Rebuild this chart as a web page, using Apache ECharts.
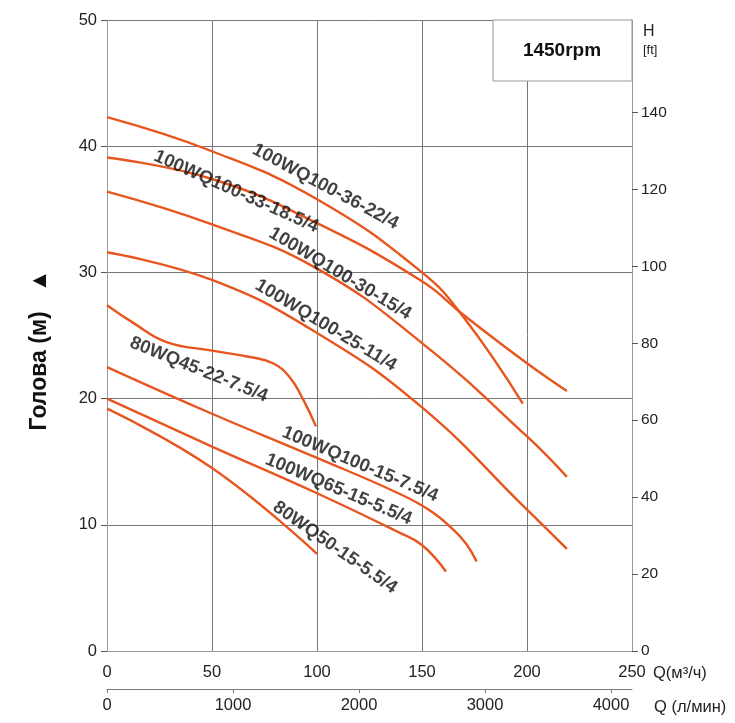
<!DOCTYPE html>
<html><head><meta charset="utf-8">
<script src="https://cdn.jsdelivr.net/npm/echarts@6/dist/echarts.min.js"></script>
<style>html,body{margin:0;padding:0;background:#fff}#c{width:735px;height:723px}</style>
</head><body><div id="c"></div>
<script>
// ---- data (Q in m3/h, H in m) ----
const q36 = [0, 50, 100, 150, 170, 198];
const h36 = [42.3, 39.6, 35.8, 30.0, 26.4, 19.6];
const q33 = [0, 50, 100, 150, 170, 200, 219];
const h33 = [39.1, 37.4, 33.9, 29.3, 26.6, 22.8, 20.6];
const q30 = [0, 50, 100, 150, 200, 219];
const h30 = [36.4, 33.8, 30.3, 24.4, 17.0, 13.8];
const q25 = [0, 50, 100, 150, 200, 219];
const h25 = [31.6, 29.4, 25.2, 19.3, 11.2, 8.1];
const q45 = [0, 12.5, 28, 50, 68, 79, 87, 93.5, 99.5];
const h45 = [27.4, 26.0, 24.5, 23.8, 23.3, 22.8, 21.7, 19.9, 17.8];
const q157 = [0, 50, 100, 140, 155, 165, 171, 176];
const h157 = [22.5, 18.8, 15.3, 12.4, 11.0, 9.6, 8.5, 7.1];
const q65 = [0, 50, 100, 139, 150, 161.4];
const h65 = [20.0, 16.2, 12.5, 9.4, 8.4, 6.3];
const q50 = [0, 50, 100];
const h50 = [19.2, 14.5, 7.7];

const curveNames = ['100WQ100-36-22/4','100WQ100-33-18.5/4','100WQ100-30-15/4','100WQ100-25-11/4',
  '80WQ45-22-7.5/4','100WQ100-15-7.5/4','100WQ65-15-5.5/4','80WQ50-15-5.5/4'];
const curveQ = [q36, q33, q30, q25, q45, q157, q65, q50];
const curveH = [h36, h33, h30, h25, h45, h157, h65, h50];

// label anchor (Q, H) and rotation
const labelQ = [104.0, 61.5, 111.0, 104.2, 43.7, 120.5, 110.3, 108.5];
const labelH = [36.8, 36.4, 29.9, 25.8, 22.3, 14.8, 12.8, 8.2];
const labelRot = [-28, -24, -31, -31, -22, -23, -23, -35];

const xTicksM3h = [0, 50, 100, 150, 200, 250];
const xTicksLmin = [0, 1000, 2000, 3000, 4000];
const yTicksFt = [0, 20, 40, 60, 80, 100, 120, 140];
const xMaxLmin = 250 * 1000 / 60;
const ftMax = 50 * 3.28084;

const FONT = "'Liberation Sans', Arial, sans-serif";
const LINE = '#e8561f';
const GRID = '#777777';
const AXIS = '#9a9a9a';

const series = curveNames.map((n, i) => ({
  type: 'line', name: n, xAxisIndex: 0, yAxisIndex: 0,
  data: curveQ[i].map((q, j) => [q, curveH[i][j]]),
  smooth: 0.45, symbol: 'none',
  lineStyle: { color: LINE, width: 2.4 }, z: 3
}));
series.push({
  type: 'scatter', xAxisIndex: 0, yAxisIndex: 0, symbolSize: 1,
  itemStyle: { color: 'rgba(0,0,0,0)' }, z: 5,
  data: curveNames.map((n, i) => ({
    name: n, value: [labelQ[i], labelH[i]],
    label: { rotate: labelRot[i] }
  })),
  label: { show: true, position: 'inside', formatter: '{b}', color: '#111',
    fontFamily: FONT, fontWeight: 'bold', fontSize: 18.5 }
});

const chart = echarts.init(document.getElementById('c'), null, { renderer: 'canvas' });
chart.setOption({
  animation: false,
  backgroundColor: '#fff',
  grid: { left: 107, right: 103, top: 20, bottom: 72, containLabel: false },
  xAxis: [
    { type: 'value', min: 0, max: 250, interval: 50, position: 'bottom',
      axisLine: { show: true, onZero: false, lineStyle: { color: AXIS, width: 1 } },
      axisTick: { show: false },
      axisLabel: { color: '#222', fontSize: 16.5, fontFamily: FONT, margin: 13,
        formatter: v => xTicksM3h.includes(v) ? String(v) : '' },
      splitLine: { show: true, lineStyle: { color: GRID, width: 1 } } },
    { type: 'value', min: 0, max: xMaxLmin, interval: 1000, position: 'bottom', offset: 38,
      axisLine: { show: true, onZero: false, lineStyle: { color: '#777', width: 1 } },
      axisTick: { show: true, length: 4, inside: false, customValues: xTicksLmin, lineStyle: { color: '#777' } },
      axisLabel: { color: '#222', fontSize: 16.5, fontFamily: FONT, margin: 8,
        customValues: xTicksLmin, formatter: v => String(v) },
      splitLine: { show: false } }
  ],
  yAxis: [
    { type: 'value', min: 0, max: 50, interval: 10, position: 'left',
      axisLine: { show: true, onZero: false, lineStyle: { color: AXIS, width: 1 } },
      axisTick: { show: true, length: 6, lineStyle: { color: '#555' } },
      axisLabel: { color: '#222', fontSize: 16.5, fontFamily: FONT, margin: 10 },
      splitLine: { show: true, lineStyle: { color: GRID, width: 1 } } },
    { type: 'value', min: 0, max: ftMax, interval: 20, position: 'right',
      axisLine: { show: true, onZero: false, lineStyle: { color: AXIS, width: 1 } },
      axisTick: { show: true, length: 6, customValues: yTicksFt, lineStyle: { color: '#555' } },
      axisLabel: { color: '#222', fontSize: 15.5, fontFamily: FONT, margin: 9,
        customValues: yTicksFt, formatter: v => String(v) },
      splitLine: { show: false } }
  ],
  graphic: [
    { type: 'rect', shape: { x: 493, y: 20, width: 139, height: 61 },
      style: { fill: '#fff', stroke: '#999', lineWidth: 1 }, z: 50 },
    { type: 'text', x: 562, y: 51, z: 51,
      style: { text: '1450rpm', fill: '#111', font: 'bold 19px ' + FONT, align: 'center', verticalAlign: 'middle' } },
    { type: 'text', x: 643, y: 32, z: 51,
      style: { text: 'H', fill: '#222', font: '16px ' + FONT, align: 'left', verticalAlign: 'middle' } },
    { type: 'text', x: 643, y: 50, z: 51,
      style: { text: '[ft]', fill: '#222', font: '13px ' + FONT, align: 'left', verticalAlign: 'middle' } },
    { type: 'text', x: 653, y: 673, z: 51,
      style: { text: 'Q(м³/ч)', fill: '#222', font: '16.5px ' + FONT, align: 'left', verticalAlign: 'middle' } },
    { type: 'text', x: 654, y: 707, z: 51,
      style: { text: 'Q (л/мин)', fill: '#222', font: '16.5px ' + FONT, align: 'left', verticalAlign: 'middle' } },
    { type: 'text', x: 40, y: 350, rotation: Math.PI / 2, z: 51,
      style: { text: 'Голова (м)   ▲', fill: '#111', font: 'bold 23px ' + FONT, align: 'center', verticalAlign: 'middle' } }
  ],
  series: series
});
</script></body></html>
